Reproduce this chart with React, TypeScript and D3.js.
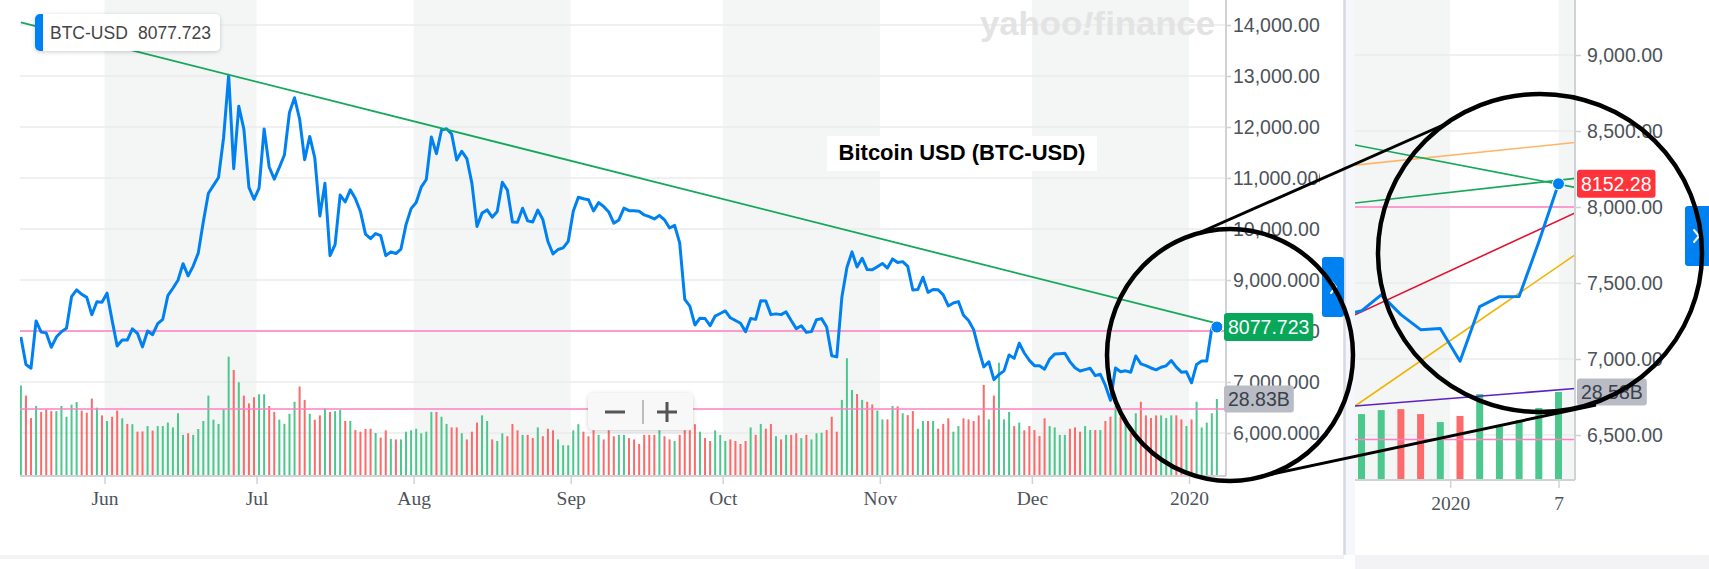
import { useEffect, useRef } from 'react';
import * as d3 from 'd3';

// daily closes (USD) from 2019-05-16 to 2020-01-07
const firstDay = '2019-05-16';
const closes = [
  7884, 7343, 7271, 8197, 7978, 7963, 7680, 7881, 7987, 8052, 8673, 8805, 8719, 8659, 8319, 8574,
  8564, 8742, 8208, 7707, 7824, 7822, 8043, 7954, 7688, 8000, 7927, 8145, 8230, 8693, 8838, 8994,
  9320, 9082, 9273, 9527, 10144, 10701, 10855, 11011, 11790, 13016, 11182, 12407, 11959, 10817,
  10583, 10801, 11961, 11215, 10978, 11208, 11451, 12285, 12573, 12157, 11358, 11815, 11392, 10256,
  10895, 9477, 9693, 10666, 10530, 10767, 10599, 10343, 9900, 9811, 9911, 9871, 9477, 9552, 9519,
  9607, 10085, 10399, 10518, 10821, 10970, 11805, 11478, 11941, 11966, 11862, 11354, 11523, 11382,
  10895, 10051, 10311, 10374, 10231, 10345, 10916, 10763, 10138, 10131, 10407, 10159, 10138, 10370,
  10185, 9754, 9510, 9598, 9630, 9757, 10346, 10623, 10594, 10575, 10353, 10517, 10441, 10334, 10115,
  10178, 10410, 10360, 10358, 10347, 10276, 10241, 10198, 10267, 10181, 10019, 10070, 9729, 8620,
  8486, 8118, 8251, 8245, 8104, 8293, 8343, 8393, 8259, 8205, 8151, 7988, 8245, 8228, 8595, 8586,
  8321, 8336, 8321, 8374, 8205, 8047, 8103, 7973, 7988, 8222, 8243, 8078, 7514, 7493, 8660, 9244,
  9551, 9256, 9427, 9205, 9199, 9261, 9324, 9235, 9413, 9342, 9360, 9267, 8804, 8813, 9055, 8757,
  8815, 8809, 8708, 8491, 8550, 8577, 8309, 8206, 8027, 7642, 7296, 7397, 7047, 7146, 7218, 7531,
  7463, 7761, 7569, 7424, 7321, 7320, 7252, 7448, 7547, 7556, 7564, 7400, 7278, 7217, 7243, 7269,
  7125, 7152, 6932, 6640, 7276, 7202, 7219, 7191, 7511, 7355, 7322, 7275, 7238, 7290, 7317, 7422,
  7292, 7193, 7200, 6985, 7345, 7410, 7411, 8060, 8077.723
];
// daily volume, billions
const volumes = [
  33.9, 30.1, 21.7, 26.2, 24.0, 25.0, 24.3, 24.3, 26.2, 22.2, 26.7, 27.7, 24.5, 23.7, 29.0, 25.6,
  22.7, 20.6, 22.2, 24.5, 21.6, 19.5, 19.4, 16.6, 16.7, 18.7, 17.0, 18.7, 18.7, 20.0, 18.2, 23.5,
  15.4, 16.0, 15.4, 17.6, 20.6, 30.1, 21.1, 19.5, 25.0, 44.7, 39.7, 35.1, 30.1, 27.2, 29.5, 30.6,
  30.6, 26.2, 24.0, 21.1, 19.5, 23.3, 27.8, 33.5, 28.5, 23.3, 21.1, 22.7, 25.3, 24.0, 24.3, 24.7,
  20.6, 20.6, 17.2, 16.6, 17.6, 17.7, 16.1, 14.4, 17.1, 13.9, 13.7, 13.7, 16.6, 17.1, 17.7, 16.0,
  16.6, 24.0, 24.0, 22.2, 19.5, 18.2, 18.2, 16.0, 13.7, 16.6, 20.0, 22.7, 20.6, 13.7, 13.1, 16.0,
  14.9, 19.5, 17.1, 15.4, 15.4, 14.2, 18.2, 14.9, 17.7, 17.1, 13.7, 11.5, 11.5, 17.1, 19.4, 16.6,
  14.9, 17.1, 15.4, 13.7, 17.1, 14.9, 15.4, 15.4, 14.2, 13.7, 12.0, 15.4, 15.4, 15.4, 17.1, 14.9,
  13.7, 13.1, 15.4, 17.1, 17.1, 19.4, 16.6, 14.2, 13.1, 17.1, 15.4, 13.1, 13.7, 13.1, 12.0, 13.1,
  18.2, 15.4, 19.5, 17.7, 19.5, 14.9, 13.7, 15.4, 15.4, 16.0, 14.2, 15.4, 13.7, 16.0, 16.2, 17.2,
  22.2, 16.6, 28.5, 44.1, 32.2, 30.7, 28.5, 27.8, 26.8, 24.5, 21.2, 21.2, 26.2, 26.1, 23.5, 22.8,
  24.3, 17.7, 20.6, 20.6, 20.6, 17.7, 19.5, 21.6, 16.6, 18.7, 21.6, 21.2, 20.6, 22.7, 34.1, 21.2,
  30.1, 42.4, 21.2, 24.0, 18.7, 20.0, 17.1, 18.7, 17.2, 15.0, 21.6, 18.7, 18.2, 15.4, 15.4, 17.7,
  18.2, 16.6, 18.7, 17.2, 17.2, 17.2, 20.6, 22.2, 26.2, 22.2, 20.6, 16.0, 23.5, 27.8, 22.7, 21.7,
  22.7, 22.7, 21.7, 22.7, 22.7, 21.2, 18.7, 21.2, 27.8, 18.2, 20.0, 23.5, 28.83
];
const lastQuote = 8077.723;
const lastVolumeText = '28.83B';

// zoomed panel, 2019-12-27 to 2020-01-07
const panelFirstDay = '2019-12-27';
const panelCloses = [7290, 7317, 7422, 7292, 7193, 7200, 6985, 7345, 7410, 7411, 7769, 8152.28];
const panelVolumes = [22.0, 21.4, 22.7, 23.0, 21.4, 18.8, 20.8, 27.9, 17.9, 19.5, 23.4, 28.58];
const panelQuote = 8152.28;
const panelVolumeText = '28.58B';

const priceTicks = [6000, 7000, 8000, 9000, 10000, 11000, 12000, 13000, 14000];
const panelPriceTicks = [6500, 7000, 7500, 8000, 8500, 9000];
const monthTicks = ['2019-06-01', '2019-07-01', '2019-08-01', '2019-09-01', '2019-10-01', '2019-11-01', '2019-12-01', '2020-01-01'];
const monthLabels = ['Jun', 'Jul', 'Aug', 'Sep', 'Oct', 'Nov', 'Dec', '2020'];
const panelTicks = ['2020-01-01 12:00', '2020-01-07 00:00'];
const panelTickLabels = ['2020', '7'];

// user drawings: [date, price] anchors
const trendAnchors: [string, number][] = [['2019-05-16', 14050], ['2020-01-07', 8150]];
const levelPrices = [8000, 6470];
const panelLineNames = ['orange', 'greenUp', 'red', 'gold', 'purple'];
const panelLineFrom = [8280, 8031, 7310, 6720, 6694]; // at 2019-12-28
const panelLineTo = [8413, 8176, 7911, 7611, 6797]; // at 2020-01-07

const sans = 'Liberation Sans, Arial, Helvetica, sans-serif';
const serif = 'Liberation Serif, Times New Roman, serif';
const blue = '#0081f2';
const upColor = '#4cc78e';
const downColor = '#fb6b6b';
const bandFill = '#f4f5f5';
const gridColor = '#ebebeb';
const axisColor = '#d0d2d6';
const lineColors: Record<string, string> = {
  orange: '#ffb566', greenUp: '#14a85a', red: '#e0122f', gold: '#f0b400', purple: '#5a22c2'
};

const parse = (s: string) => (s.length > 10 ? d3.timeParse('%Y-%m-%d %H:%M')(s) : d3.timeParse('%Y-%m-%d')(s)) as Date;

export default function App() {
  const svgRef = useRef<SVGSVGElement>(null);

  useEffect(() => {
    document.body.style.margin = '0';
    if (!svgRef.current) return;
    const svg = d3.select(svgRef.current);
    svg.selectAll('*').remove();

    const main = { left: 20, right: 1226, bottom: 476 };
    const panel = { left: 1355, right: 1575, bottom: 480 };

    const defs = svg.append('defs');
    defs.append('clipPath').attr('id', 'mainClip').append('rect')
      .attr('x', main.left).attr('y', 0).attr('width', main.right - main.left).attr('height', main.bottom);
    defs.append('clipPath').attr('id', 'panelClip').append('rect')
      .attr('x', panel.left).attr('y', 0).attr('width', panel.right - panel.left).attr('height', panel.bottom);
    defs.append('clipPath').attr('id', 'axisClip').append('rect')
      .attr('x', main.right).attr('y', 0).attr('width', 94).attr('height', 569);
    defs.append('filter').attr('id', 'shadow').attr('x', '-20%').attr('y', '-40%').attr('width', '140%').attr('height', '180%')
      .append('feDropShadow').attr('dx', 0).attr('dy', 1).attr('stdDeviation', 2)
      .attr('flood-color', '#000').attr('flood-opacity', 0.2);

    const days = closes.map((_, i) => d3.timeDay.offset(parse(firstDay), i));
    const months = monthTicks.map(parse);
    const x = d3.scaleTime().domain([months[0], months[months.length - 1]]).range([104.5, 1189]);
    const at = (d: Date) => x(d3.timeHour.offset(d, -12));
    const y = d3.scaleLinear().domain([6000, 14000]).range([433, 25]);
    const yv = d3.scaleLinear().domain([0, 50]).range([main.bottom, main.bottom - 133.5]);

    const pDays = panelCloses.map((_, i) => d3.timeDay.offset(parse(panelFirstDay), i));
    const pTicks = panelTicks.map(parse);
    const px = d3.scaleTime().domain([parse('2020-01-02'), parse('2020-01-07')]).range([1460, 1558.5]);
    const py = d3.scaleLinear().domain([6500, 9000]).range([435, 55]);
    const pv = d3.scaleLinear().domain([0, 50]).range([panel.bottom, panel.bottom - 154]);

    // page frame
    svg.append('rect').attr('width', 1709).attr('height', 569).attr('fill', '#fff');
    svg.append('rect').attr('x', 0).attr('y', 555).attr('width', 1344).attr('height', 4).attr('fill', '#f3f3f5');
    svg.append('rect').attr('x', 1355).attr('y', 555).attr('width', 354).attr('height', 14).attr('fill', '#f3f3f5');
    svg.append('rect').attr('x', 1344).attr('y', 0).attr('width', 11).attr('height', 555).attr('fill', '#f6f7fd');
    svg.append('line').attr('x1', 1344.5).attr('x2', 1344.5).attr('y1', 0).attr('y2', 555)
      .attr('stroke', '#d8dae1').attr('stroke-width', 2.5);

    // ---------- main chart ----------
    const g = svg.append('g');
    const clipped = g.append('g').attr('clip-path', 'url(#mainClip)');
    [0, 2, 4, 6].forEach(i => {
      clipped.append('rect')
        .attr('x', x(months[i])).attr('y', 0)
        .attr('width', x(months[i + 1]) - x(months[i])).attr('height', main.bottom)
        .attr('fill', bandFill);
    });
    clipped.selectAll('.grid').data(priceTicks).enter().append('line')
      .attr('x1', main.left).attr('x2', main.right)
      .attr('y1', d => y(d)).attr('y2', d => y(d))
      .attr('stroke', gridColor).attr('stroke-width', 1.5);

    const mark = g.append('text').attr('x', 980).attr('y', 35)
      .attr('font-family', sans).attr('font-weight', 'bold').attr('font-size', 33)
      .attr('fill', '#e3e3e3').attr('textLength', 235).attr('lengthAdjust', 'spacingAndGlyphs');
    mark.append('tspan').text('yahoo');
    mark.append('tspan').attr('font-style', 'italic').text('!');
    mark.append('tspan').text('finance');

    clipped.selectAll('.vol').data(volumes).enter().append('rect')
      .attr('x', (_, i) => at(days[i]) - 1).attr('width', 2)
      .attr('y', d => yv(d)).attr('height', d => main.bottom - yv(d))
      .attr('fill', (_, i) => (i === 0 || closes[i] >= closes[i - 1] ? upColor : downColor));

    levelPrices.forEach(p => {
      clipped.append('line').attr('x1', main.left).attr('x2', main.right)
        .attr('y1', y(p)).attr('y2', y(p)).attr('stroke', '#ff80c4').attr('stroke-width', 1.5);
    });

    const priceLine = d3.line<number>().x((_, i) => at(days[i])).y(d => y(d));
    clipped.append('path').datum(closes)
      .attr('fill', 'none').attr('stroke', blue).attr('stroke-width', 3)
      .attr('stroke-linejoin', 'round').attr('d', priceLine);

    const trendPts = trendAnchors.map(([d, p]) => [at(parse(d)), y(p)] as [number, number]);
    clipped.append('path').attr('d', d3.line()(trendPts))
      .attr('fill', 'none').attr('stroke', lineColors.greenUp).attr('stroke-width', 1.8);

    // axes
    g.append('line').attr('x1', main.right).attr('x2', main.right).attr('y1', 0).attr('y2', main.bottom)
      .attr('stroke', axisColor).attr('stroke-width', 2);
    g.append('line').attr('x1', main.left).attr('x2', main.right).attr('y1', main.bottom).attr('y2', main.bottom)
      .attr('stroke', axisColor).attr('stroke-width', 2);

    const styleAxis = (sel: d3.Selection<SVGGElement, unknown, null, undefined>, family: string) => {
      sel.select('.domain').remove();
      sel.selectAll('line').attr('stroke', axisColor).attr('stroke-width', 1.5);
      sel.selectAll('text').attr('font-family', family).attr('font-size', 19.5).attr('fill', '#4c535a');
    };

    const bottomAxis = g.append('g').attr('transform', `translate(0,${main.bottom})`)
      .call(d3.axisBottom(x).tickValues(months).tickFormat((_, i) => monthLabels[i]).tickSize(8).tickPadding(7.5));
    styleAxis(bottomAxis, serif);

    const rightAxis = g.append('g').attr('clip-path', 'url(#axisClip)')
      .append('g').attr('transform', `translate(${main.right},0)`)
      .call(d3.axisRight(y).tickValues(priceTicks).tickFormat(d3.format(',.3f')).tickSize(5).tickPadding(2));
    styleAxis(rightAxis, sans);

    // ---------- zoomed panel ----------
    const p = svg.append('g');
    const pc = p.append('g').attr('clip-path', 'url(#panelClip)');
    pc.append('rect').attr('x', panel.left).attr('y', 0).attr('width', px(pTicks[0]) - panel.left)
      .attr('height', panel.bottom).attr('fill', bandFill);
    pc.append('rect').attr('x', px(pTicks[1])).attr('y', 0).attr('width', panel.right - px(pTicks[1]))
      .attr('height', panel.bottom).attr('fill', bandFill);
    pc.selectAll('.grid').data(panelPriceTicks).enter().append('line')
      .attr('x1', panel.left).attr('x2', panel.right)
      .attr('y1', d => py(d)).attr('y2', d => py(d))
      .attr('stroke', gridColor).attr('stroke-width', 1.5);

    pc.selectAll('.vol').data(panelVolumes).enter().append('rect')
      .attr('x', (_, i) => px(pDays[i]) - 3.5).attr('width', 7)
      .attr('y', d => pv(d)).attr('height', d => panel.bottom - pv(d))
      .attr('fill', (_, i) => (i === 0 || panelCloses[i] >= panelCloses[i - 1] ? upColor : downColor));

    const tLeft = px.invert(panel.left);
    const tRight = px.invert(panel.right);
    const extend = (t1: Date, p1: number, t2: Date, p2: number) =>
      [tLeft, tRight].map(t => [px(t), py(p1 + (p2 - p1) * (+t - +t1) / (+t2 - +t1))] as [number, number]);

    levelPrices.forEach(lp => {
      pc.append('line').attr('x1', panel.left).attr('x2', panel.right)
        .attr('y1', py(lp)).attr('y2', py(lp)).attr('stroke', '#ff80c4').attr('stroke-width', 1.5);
    });
    panelLineNames.forEach((name, i) => {
      pc.append('path')
        .attr('d', d3.line()(extend(parse('2019-12-28'), panelLineFrom[i], parse('2020-01-07'), panelLineTo[i])))
        .attr('fill', 'none').attr('stroke', lineColors[name]).attr('stroke-width', 1.6);
    });
    pc.append('path')
      .attr('d', d3.line()(extend(parse(trendAnchors[0][0]), trendAnchors[0][1], parse(trendAnchors[1][0]), trendAnchors[1][1])))
      .attr('fill', 'none').attr('stroke', lineColors.greenUp).attr('stroke-width', 1.6);

    const panelLine = d3.line<number>().x((_, i) => px(pDays[i])).y(d => py(d));
    pc.append('path').datum(panelCloses)
      .attr('fill', 'none').attr('stroke', blue).attr('stroke-width', 3)
      .attr('stroke-linejoin', 'round').attr('d', panelLine);

    p.append('line').attr('x1', panel.right).attr('x2', panel.right).attr('y1', 0).attr('y2', panel.bottom)
      .attr('stroke', axisColor).attr('stroke-width', 2);
    p.append('line').attr('x1', panel.left).attr('x2', panel.right).attr('y1', panel.bottom).attr('y2', panel.bottom)
      .attr('stroke', axisColor).attr('stroke-width', 2);
    const pBottom = p.append('g').attr('transform', `translate(0,${panel.bottom})`)
      .call(d3.axisBottom(px).tickValues(pTicks).tickFormat((_, i) => panelTickLabels[i]).tickSize(8).tickPadding(8.5));
    styleAxis(pBottom, serif);
    const pRight = p.append('g').attr('transform', `translate(${panel.right},0)`)
      .call(d3.axisRight(py).tickValues(panelPriceTicks).tickFormat(d3.format(',.2f')).tickSize(6).tickPadding(6));
    styleAxis(pRight, sans);

    // ---------- value tags ----------
    const tag = (x0: number, cy: number, text: string, fill: string, color: string, h: number) => {
      const tg = svg.append('g');
      const r = tg.append('rect').attr('x', x0).attr('y', cy - h / 2).attr('height', h).attr('rx', 3).attr('fill', fill);
      const t = tg.append('text').attr('x', x0 + 4).attr('y', cy).attr('dy', '0.36em')
        .attr('font-family', sans).attr('font-size', 19.5).attr('fill', color).text(text);
      r.attr('width', (t.node() as SVGTextElement).getComputedTextLength() + 8);
    };
    tag(1224, y(lastQuote), d3.format('.3f')(lastQuote), '#08a75a', '#fff', 28);
    tag(1224, yv(volumes[volumes.length - 1]), lastVolumeText, '#b9bcc4', '#39414a', 27);
    tag(1577, py(panelQuote), d3.format('.2f')(panelQuote), '#ff333a', '#fff', 28);
    tag(1577, pv(panelVolumes[panelVolumes.length - 1]), panelVolumeText, '#b9bcc4', '#39414a', 27);

    svg.append('circle').attr('cx', at(days[days.length - 1])).attr('cy', y(lastQuote)).attr('r', 6)
      .attr('fill', blue).attr('stroke', '#fff').attr('stroke-width', 1);
    svg.append('circle').attr('cx', px(pDays[pDays.length - 1])).attr('cy', py(panelQuote)).attr('r', 6)
      .attr('fill', blue).attr('stroke', '#fff').attr('stroke-width', 1);

    // side buttons
    const button = (bx: number, by: number, bw: number) => {
      svg.append('rect').attr('x', bx).attr('y', by).attr('width', bw).attr('height', 60).attr('rx', 3).attr('fill', blue);
      svg.append('path').attr('d', `M${bx + 9},${by + 24} l5,6 l-5,6`)
        .attr('fill', 'none').attr('stroke', '#fff').attr('stroke-width', 2).attr('stroke-linecap', 'round');
    };
    button(1322, 257, 22);
    button(1685, 206, 30);

    // legend tooltip
    const lg = svg.append('g');
    lg.append('rect').attr('x', 35).attr('y', 14).attr('width', 185).attr('height', 37).attr('rx', 5)
      .attr('fill', '#fff').attr('filter', 'url(#shadow)');
    lg.append('path').attr('d', 'M40,14 h3 v37 h-3 a5,5 0 0 1 -5,-5 v-27 a5,5 0 0 1 5,-5 z').attr('fill', blue);
    lg.append('text').attr('x', 50).attr('y', 39).attr('font-family', sans).attr('font-size', 17.5)
      .attr('fill', '#444').text('BTC-USD');
    lg.append('text').attr('x', 138).attr('y', 39).attr('font-family', sans).attr('font-size', 17.5)
      .attr('fill', '#444').text(d3.format('.3f')(lastQuote));

    // title
    svg.append('rect').attr('x', 827).attr('y', 136).attr('width', 270).attr('height', 35).attr('fill', '#fff');
    svg.append('text').attr('x', 962).attr('y', 160).attr('text-anchor', 'middle')
      .attr('font-family', sans).attr('font-weight', 'bold').attr('font-size', 22).attr('fill', '#000')
      .text('Bitcoin USD (BTC-USD)');

    // zoom control
    const zc = svg.append('g');
    zc.append('rect').attr('x', 588).attr('y', 393).attr('width', 105).attr('height', 37).attr('rx', 6)
      .attr('fill', '#f8f8f8').attr('filter', 'url(#shadow)');
    zc.append('line').attr('x1', 605).attr('x2', 625).attr('y1', 412).attr('y2', 412).attr('stroke', '#555').attr('stroke-width', 3);
    zc.append('line').attr('x1', 643).attr('x2', 643).attr('y1', 400).attr('y2', 424).attr('stroke', '#aaa').attr('stroke-width', 1.5);
    zc.append('line').attr('x1', 657).attr('x2', 677).attr('y1', 412).attr('y2', 412).attr('stroke', '#555').attr('stroke-width', 3);
    zc.append('line').attr('x1', 667).attr('x2', 667).attr('y1', 402).attr('y2', 422).attr('stroke', '#555').attr('stroke-width', 3);

    // magnifier drawing
    const lens = [
      { cx: 1230, cy: 355, rx: 123, ry: 126 },
      { cx: 1540, cy: 253, rx: 162, ry: 159 }
    ];
    const links = [[1201, 232, 1450, 122], [1258, 477, 1596, 405]];
    lens.forEach(e => {
      svg.append('ellipse').attr('cx', e.cx).attr('cy', e.cy).attr('rx', e.rx).attr('ry', e.ry)
        .attr('fill', 'none').attr('stroke', '#000').attr('stroke-width', 4.5);
    });
    links.forEach(([x1, y1, x2, y2]) => {
      svg.append('line').attr('x1', x1).attr('y1', y1).attr('x2', x2).attr('y2', y2)
        .attr('stroke', '#000').attr('stroke-width', 3);
    });
  }, []);

  return (
    <svg
      ref={svgRef}
      width={1709}
      height={569}
      style={{ display: 'block', background: '#fff' }}
    />
  );
}
